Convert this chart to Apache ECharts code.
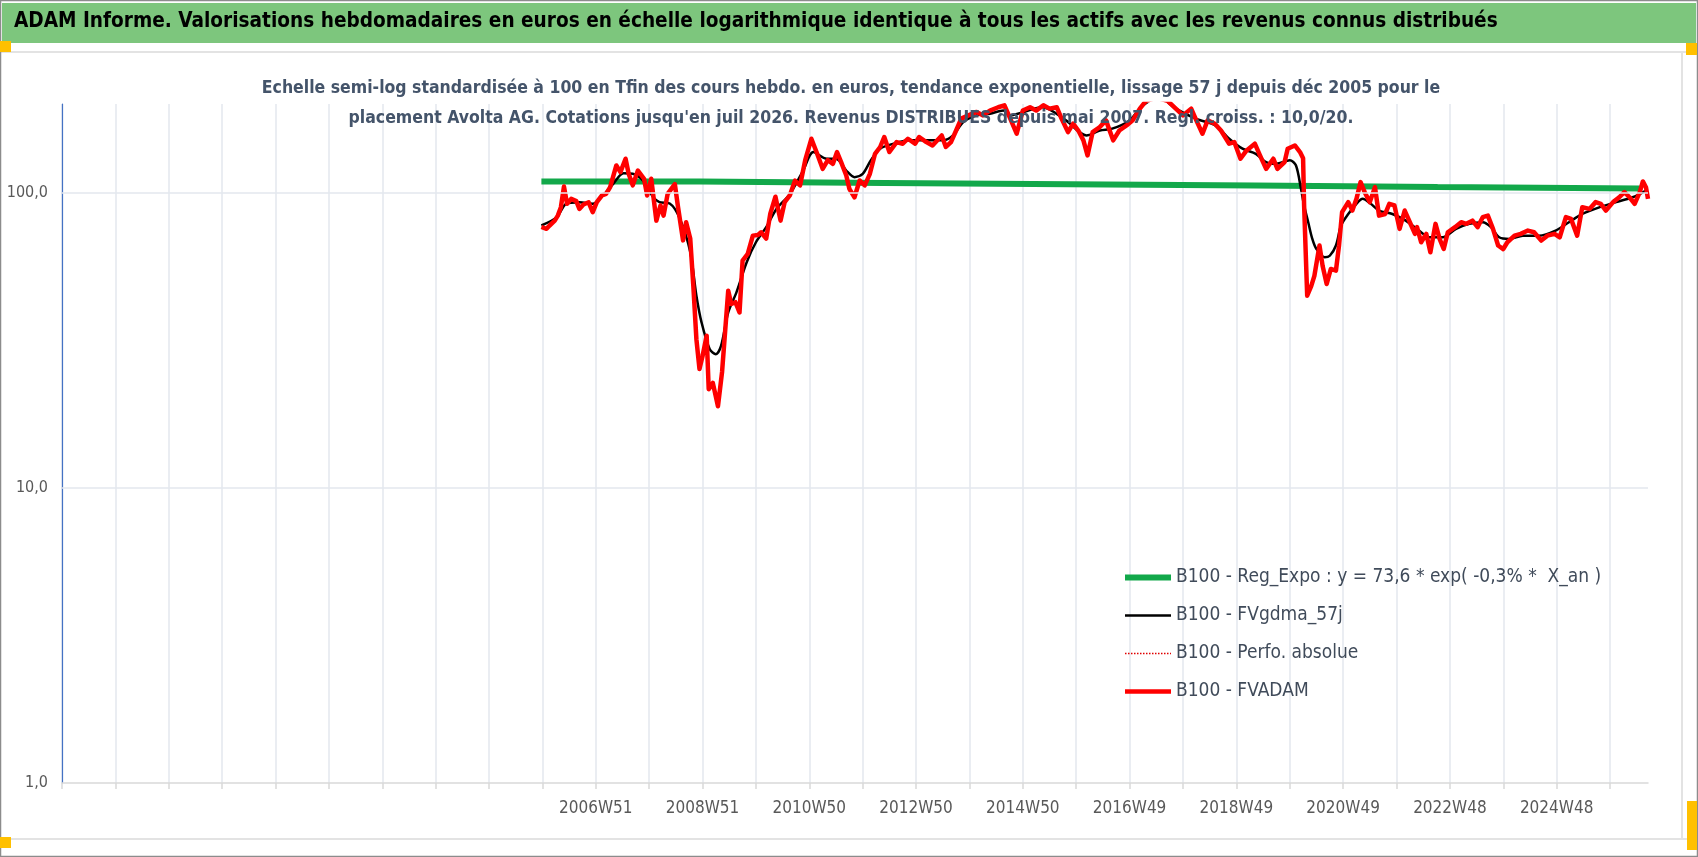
<!DOCTYPE html>
<html>
<head>
<meta charset="utf-8">
<script src="https://cdn.jsdelivr.net/npm/echarts@6.0.0/dist/echarts.min.js"></script>
<style>
  html, body { margin: 0; padding: 0; background: #fff; }
  #main { width: 1698px; height: 857px; }
</style>
</head>
<body>
<div id="main"></div>
<script>
// x = semaines depuis l'origine de l'axe (1 trait de grille = 52 semaines, 520 = 2006W51)
var nbWeeks = 1546;
var xLabels = ['2006W51', '2008W51', '2010W50', '2012W50', '2014W50', '2016W49', '2018W49', '2020W49', '2022W48', '2024W48'];
var yTicks = [1, 10, 100];

var regExpo = [[467, 109.3], [621, 108.0], [801, 106.9], [982, 105.9], [1162, 104.6], [1340, 103.4], [1537, 103.4]];

var fvgdma = [
  [467, 77.5], [482, 82.7], [491, 91.8], [504, 93], [517, 91.8], [527, 98], [537, 107.3], [547, 116.5],
  [556, 116], [566, 110], [576, 96.6], [582, 93], [592, 92], [602, 81.6], [612, 63], [618, 44.8],
  [623, 36.4], [631, 29.5], [637, 28.4], [642, 30.3], [649, 39.3], [657, 46], [667, 58.2], [676, 68],
  [686, 76.5], [696, 88.2], [709, 99], [722, 119], [732, 137.5], [745, 130.5], [754, 130.5], [764, 119],
  [772, 113], [780, 116], [788, 129], [797, 141.1], [810, 146.7], [826, 150.6], [842, 150.6], [858, 150.6],
  [868, 156.5], [878, 173.8], [891, 183], [904, 185.4], [917, 190], [923, 183], [955, 195], [978, 176],
  [998, 156.5], [1011, 162.6], [1023, 165], [1040, 176], [1053, 198], [1069, 210], [1085, 193], [1105, 178],
  [1124, 169], [1137, 152.5], [1150, 141.1], [1163, 135.6], [1173, 127], [1183, 125.4], [1196, 129], [1202, 124],
  [1207, 103], [1210, 90.6], [1214, 79.5], [1218, 69.8], [1222, 64.5], [1230, 60.5], [1235, 61.2], [1241, 66.3],
  [1246, 77.5], [1253, 84.8], [1261, 91.8], [1267, 95.4], [1275, 91.8], [1283, 87.1], [1296, 84.8], [1309, 80.5],
  [1322, 74.5], [1332, 70.7], [1345, 70.7], [1358, 75.5], [1371, 78.5], [1384, 79.5], [1392, 76.5], [1400, 70.7],
  [1410, 69.8], [1423, 71.6], [1439, 71.6], [1455, 74.5], [1468, 79.5], [1481, 84.8], [1498, 89.4], [1514, 93],
  [1530, 96.6], [1543, 101.8]
];

var perfoAbs = [];

var fvadam = [
  [467, 76.6], [472, 75.5], [475, 77.5], [480, 80.5], [483, 83.7], [486, 89.4], [489, 105], [492, 91.8],
  [496, 95.4], [501, 93.7], [504, 88.2], [508, 91.3], [513, 92.9], [517, 86], [521, 93], [526, 98],
  [530, 99.2], [534, 104.5], [540, 123.8], [544, 117.5], [549, 130.5], [552, 116], [556, 106], [561, 119],
  [567, 111.6], [570, 98], [574, 111.6], [579, 80.5], [583, 90.6], [586, 83.7], [590, 99.2], [597, 107],
  [600, 90], [605, 69], [608, 79.5], [612, 70], [615, 48.4], [618, 31.9], [621, 25.3], [624, 28],
  [628, 32.8], [630, 21.6], [634, 22.7], [639, 18.9], [643, 24.7], [649, 46.6], [652, 42], [656, 42.6],
  [660, 39.3], [663, 58.9], [668, 62.1], [673, 71.6], [678, 72], [681, 73.5], [686, 70], [690, 85],
  [695, 97], [700, 80.5], [704, 93], [709, 98], [714, 110], [719, 106], [724, 129], [730, 152.5],
  [735, 137.5], [741, 120.6], [746, 129], [751, 125.4], [755, 137.5], [759, 127.1], [764, 114.5], [767, 103.2],
  [772, 96.6], [777, 110.1], [782, 106], [787, 116], [792, 135.6], [797, 143], [801, 154.6], [806, 137.5],
  [813, 148.6], [819, 146.7], [824, 152.5], [831, 146.7], [835, 154.6], [842, 148.6], [848, 144.7], [857, 156.5],
  [861, 143], [866, 148.6], [871, 162.6], [876, 178.4], [883, 183], [891, 188], [897, 183], [904, 190],
  [912, 195], [918, 198], [923, 181], [930, 158.6], [936, 190], [943, 195], [949, 190], [956, 198],
  [962, 192.9], [969, 195], [973, 180.8], [980, 160.6], [985, 171.5], [990, 162.6], [995, 150.6], [999, 133.9],
  [1004, 160.6], [1011, 167.2], [1017, 176], [1024, 150.6], [1030, 162.6], [1037, 169.2], [1043, 176], [1050, 192.9],
  [1056, 205], [1066, 210], [1077, 205], [1085, 192.9], [1092, 183], [1100, 192.9], [1105, 176], [1111, 158.6],
  [1116, 176], [1123, 171.5], [1129, 162.6], [1137, 146.7], [1142, 148.6], [1148, 130.5], [1154, 139.2], [1162, 146.7],
  [1167, 133.9], [1173, 120.6], [1180, 130.5], [1184, 120.6], [1191, 127.1], [1194, 141.1], [1201, 144.7], [1206, 137.5],
  [1209, 131], [1210, 90.6], [1213, 44.8], [1217, 48.4], [1220, 52.3], [1225, 66.3], [1228, 56.6], [1232, 49.1],
  [1236, 55.2], [1241, 54.5], [1244, 66.3], [1247, 86], [1253, 93], [1257, 87.1], [1261, 95.4], [1265, 108.7],
  [1269, 100.5], [1274, 93], [1279, 104.5], [1283, 83.7], [1289, 84.8], [1293, 91.8], [1298, 90.6], [1303, 75.5],
  [1308, 87.1], [1313, 79.5], [1318, 72.6], [1320, 76.5], [1324, 68], [1329, 72.6], [1333, 62.9], [1338, 78.5],
  [1342, 69.8], [1346, 64.5], [1350, 73.5], [1357, 76.5], [1363, 79.5], [1368, 78.5], [1374, 80.5], [1379, 76.5],
  [1384, 82.7], [1389, 83.7], [1394, 75.5], [1399, 66.3], [1404, 64.5], [1408, 68], [1415, 71.6], [1421, 72.6],
  [1428, 74.5], [1434, 73.5], [1441, 68.9], [1447, 71.6], [1454, 72.6], [1459, 70.7], [1465, 82.7], [1470, 81.6],
  [1476, 71.6], [1481, 89.4], [1488, 88.2], [1494, 93], [1499, 91.8], [1504, 87.1], [1511, 93], [1517, 96.6],
  [1522, 100.5], [1527, 96.6], [1532, 91.8], [1537, 100.5], [1540, 109.3], [1543, 104.5], [1545, 95.4]
];

var weeks = [];
for (var i = 0; i < nbWeeks; i++) weeks.push(i);

var FONT = "'Liberation Sans Narrow', 'DejaVu Sans Condensed', 'Noto Sans', sans-serif";
var nomReg = 'B100 - Reg_Expo : y = 73,6 * exp( -0,3% *  X_an )';

var myChart = echarts.init(document.getElementById('main'));
var option = {
  backgroundColor: '#fff',
  animation: false,
  title: [{
    text: "Echelle semi-log standardisée à 100 en Tfin des cours hebdo. en euros, tendance exponentielle, lissage 57 j depuis déc 2005 pour le\nplacement Avolta AG. Cotations jusqu'en juil 2026. Revenus DISTRIBUES depuis mai 2007. Regl. croiss. : 10,0/20.",
    left: 846,
    top: 68,
    textAlign: 'center',
    textStyle: { fontFamily: FONT, fontSize: 17.5, fontWeight: 'bold', color: '#44546A', lineHeight: 30 }
  }],
  graphic: [
    { type: 'rect', shape: { x: 2, y: 3, width: 1694, height: 40 }, style: { fill: '#7DC67D' }, silent: true },
    { type: 'text', left: 14, top: 11, style: {
        text: 'ADAM Informe. Valorisations hebdomadaires en euros en échelle logarithmique identique à tous les actifs avec les revenus connus distribués',
        font: 'bold 20.6px ' + FONT, fill: '#000' } },
    { type: 'line', shape: { x1: 0, y1: 52, x2: 1688, y2: 52 }, style: { stroke: '#E3E3E3', lineWidth: 2 }, silent: true },
    { type: 'line', shape: { x1: 0, y1: 839, x2: 1688, y2: 839 }, style: { stroke: '#E3E3E3', lineWidth: 2 }, silent: true },
    { type: 'line', shape: { x1: 1682, y1: 52, x2: 1682, y2: 839 }, style: { stroke: '#E3E3E3', lineWidth: 2 }, silent: true },
    { type: 'rect', shape: { x: 0.5, y: 0.5, width: 1697, height: 856 }, style: { fill: 'none', stroke: '#8C8C8C', lineWidth: 1.5 }, silent: true },
    { type: 'rect', shape: { x: 0, y: 41, width: 11, height: 11 }, style: { fill: '#FFC000' }, silent: true },
    { type: 'rect', shape: { x: 1686, y: 43, width: 11, height: 12 }, style: { fill: '#FFC000' }, silent: true },
    { type: 'rect', shape: { x: 0, y: 837, width: 11, height: 11 }, style: { fill: '#FFC000' }, silent: true },
    { type: 'rect', shape: { x: 1687, y: 801, width: 10, height: 49 }, style: { fill: '#FFC000' }, silent: true }
  ],
  legend: {
    orient: 'vertical',
    left: 1117,
    top: 563,
    itemWidth: 46,
    itemHeight: 14,
    itemGap: 19,
    itemStyle: { opacity: 0 },
    data: [
      { name: nomReg, lineStyle: { width: 6 } },
      { name: 'B100 - FVgdma_57j', lineStyle: { width: 2.5 } },
      { name: 'B100 - Perfo. absolue', lineStyle: { width: 1.5, type: 'dotted' } },
      { name: 'B100 - FVADAM', lineStyle: { width: 4.5 } }
    ],
    textStyle: { fontFamily: FONT, fontSize: 19, color: '#404B5A' }
  },
  grid: { left: 62, right: 50, top: 104, bottom: 74, containLabel: false },
  xAxis: {
    type: 'category',
    data: weeks,
    boundaryGap: false,
    axisLine: { lineStyle: { color: '#D9D9D9', width: 1.5 } },
    axisTick: { show: true, length: 6, interval: function (i) { return i % 52 === 0; }, lineStyle: { color: '#D9D9D9', width: 1.5 } },
    splitLine: { show: true, interval: function (i) { return i % 52 === 0; }, lineStyle: { color: '#E3E7EE', width: 1.5 } },
    axisLabel: {
      interval: function (i) { return i >= 520 && (i - 520) % 104 === 0; },
      formatter: function (v, i) { return xLabels[(i - 520) / 104] || ''; },
      margin: 17,
      fontFamily: FONT, fontSize: 17, color: '#595959'
    }
  },
  yAxis: {
    type: 'log',
    logBase: 10,
    min: 1,
    max: 200,
    axisLine: { show: true, lineStyle: { color: '#4472C4', width: 1.2 } },
    axisTick: { show: false },
    splitLine: { show: false },
    axisLabel: {
      margin: 14,
      fontFamily: FONT, fontSize: 16, color: '#595959',
      formatter: function (v) {
        var r = Math.round(v);
        if (Math.abs(v - r) < 1e-6 && yTicks.indexOf(r) >= 0) return r.toFixed(1).replace('.', ',');
        return '';
      }
    }
  },
  series: [
    { name: 'grille', type: 'line', data: [], silent: true,
      markLine: { silent: true, symbol: ['none', 'none'], label: { show: false },
        lineStyle: { color: '#E3E7EE', width: 1.5, type: 'solid' },
        data: [{ yAxis: yTicks[1] }, { yAxis: yTicks[2] }] } },
    { name: nomReg, type: 'line', data: regExpo, step: 'end',
      symbol: 'none', lineStyle: { color: '#12A84A', width: 6 }, itemStyle: { color: '#12A84A' } },
    { name: 'B100 - FVgdma_57j', type: 'line', data: fvgdma, symbol: 'none', smooth: 0.3,
      lineStyle: { color: '#000', width: 2.5 }, itemStyle: { color: '#000' } },
    { name: 'B100 - Perfo. absolue', type: 'line', data: perfoAbs, symbol: 'none',
      lineStyle: { color: '#E00000', width: 1.5, type: 'dotted' }, itemStyle: { color: '#E00000' } },
    { name: 'B100 - FVADAM', type: 'line', data: fvadam, symbol: 'none',
      lineStyle: { color: '#FF0000', width: 4.5, join: 'round' }, itemStyle: { color: '#FF0000' } }
  ]
};
myChart.setOption(option);
</script>
</body>
</html>
